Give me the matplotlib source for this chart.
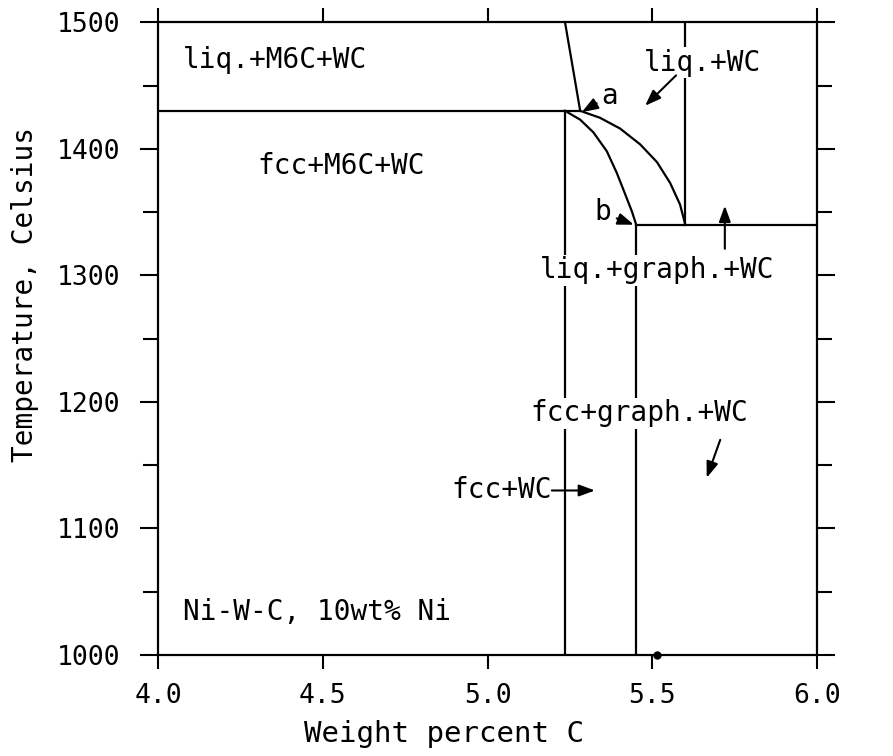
import numpy as np
import matplotlib.pyplot as plt

# phase boundaries, wt% C vs temperature (Celsius)
eutectic_x = [4.0, 5.281]
eutectic_T = [1430, 1430]
m6c_x = [5.235, 5.281]
m6c_T = [1500, 1430]
fcc_wc_x = [5.235, 5.235]
fcc_wc_T = [1430, 1000]
solidus_x = [5.235, 5.281, 5.321, 5.362, 5.392, 5.417, 5.438, 5.451]
solidus_T = [1430, 1423, 1413, 1398, 1381, 1364.5, 1350.5, 1340]
liquidus_x = [5.281, 5.341, 5.402, 5.463, 5.514, 5.554, 5.584, 5.600]
liquidus_T = [1430, 1424.5, 1416, 1403.5, 1389.5, 1373, 1356, 1340]
graph_x = [5.451, 5.451]
graph_T = [1340, 1000]
liq_wc_x = [5.600, 5.600]
liq_wc_T = [1500, 1340]
three_phase_x = [5.451, 6.0]
three_phase_T = [1340, 1340]

xticks = [4.0, 4.5, 5.0, 5.5, 6.0]
xtick_labels = ['4.0', '4.5', '5.0', '5.5', '6.0']
yticks = [1000, 1100, 1200, 1300, 1400, 1500]
ytick_labels = ['1000', '1100', '1200', '1300', '1400', '1500']

# region labels: text, x, T, horizontal alignment
labels = [('liq.+M6C+WC', 4.076, 1470, 'left'),
          ('fcc+M6C+WC', 4.30, 1386, 'left'),
          ('liq.+WC', 5.475, 1468, 'left'),
          ('a', 5.345, 1442, 'left'),
          ('b', 5.325, 1350, 'left'),
          ('liq.+graph.+WC', 5.16, 1304, 'left'),
          ('fcc+graph.+WC', 5.13, 1191, 'left'),
          ('fcc+WC', 5.195, 1130, 'right'),
          ('Ni-W-C, 10wt% Ni', 4.076, 1034, 'left')]

# arrows: (tail x, tail T, tip x, tip T)
arrows = [(5.331, 1436, 5.286, 1429),
          (5.392, 1345, 5.444, 1340),
          (5.572, 1458, 5.478, 1434),
          (5.72, 1321, 5.72, 1355),
          (5.706, 1170, 5.665, 1140),
          (5.195, 1130, 5.326, 1130)]

dot_x, dot_T = 5.515, 1000

plt.rcParams['font.family'] = ['DejaVu Sans Mono']

fig = plt.figure(figsize=(8.93, 7.56), dpi=100)
ax = fig.add_axes([0.177, 0.1336, 0.738, 0.837])

lw = 1.6
for xs, ts in [(eutectic_x, eutectic_T), (m6c_x, m6c_T), (fcc_wc_x, fcc_wc_T),
               (solidus_x, solidus_T), (liquidus_x, liquidus_T), (graph_x, graph_T),
               (liq_wc_x, liq_wc_T), (three_phase_x, three_phase_T)]:
    ax.plot(xs, ts, color='black', lw=lw, zorder=2)

ax.plot([dot_x], [dot_T], 'o', color='black', ms=5, clip_on=False, zorder=4)

for txt, x, t, ha in labels:
    ax.text(x, t, txt, fontsize=20, ha=ha, va='center', zorder=5,
            bbox=dict(facecolor='white', edgecolor='none', pad=1))

for x0, t0, x1, t1 in arrows:
    ax.annotate('', xy=(x1, t1), xytext=(x0, t0), zorder=6,
                arrowprops=dict(arrowstyle='-|>,head_length=0.6,head_width=0.22',
                                color='black', lw=1.5, shrinkA=0, shrinkB=0,
                                mutation_scale=16))

ax.set_xlim(4.0, 6.0)
ax.set_ylim(1000, 1500)
ax.set_xticks(xticks)
ax.set_xticklabels(xtick_labels)
ax.set_yticks(yticks)
ax.set_yticklabels(ytick_labels)
ax.set_yticks(np.arange(1050, 1500, 100), minor=True)
ax.tick_params(axis='both', which='both', direction='out', top=True, right=True,
               width=1.5, labelsize=19)
ax.tick_params(axis='y', which='major', length=13, pad=14)
ax.tick_params(axis='y', which='minor', length=11)
ax.tick_params(axis='x', which='major', length=10, pad=10)
for s in ax.spines.values():
    s.set_linewidth(1.6)

ax.set_xlabel('Weight percent C', fontsize=21)
ax.xaxis.set_label_coords(0.434, -0.102)
ax.set_ylabel('Temperature, Celsius', fontsize=20)
ax.yaxis.set_label_coords(-0.18, 0.57)

plt.savefig('out.png', dpi=100)
